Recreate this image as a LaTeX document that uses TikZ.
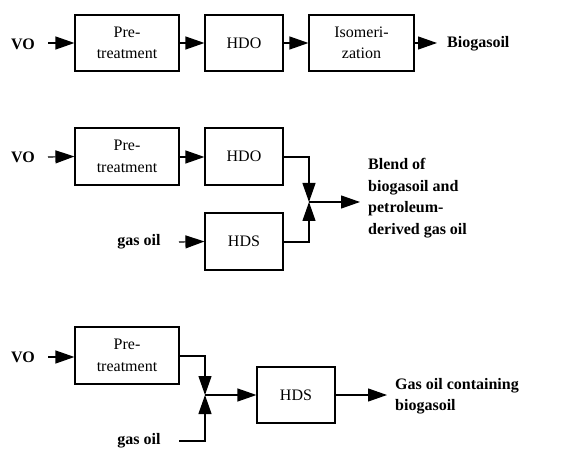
\documentclass[tikz,border=0pt]{standalone}
\usepackage{fontspec}
\setmainfont{Liberation Serif}
\usetikzlibrary{arrows.meta}
\begin{document}
\begin{tikzpicture}[x=1pt,y=-1pt,
  every node/.style={font=\fontsize{16}{21.5}\selectfont, inner sep=0pt},
  box/.style={draw, line width=1.2pt, minimum height=56pt, align=center},
  lbl/.style={font=\fontsize{16}{21.5}\selectfont\bfseries},
  flow/.style={line width=1.2pt, -{Triangle[length=19pt,width=13pt]}},
  ln/.style={line width=1.2pt}]
\useasboundingbox (0,0) rectangle (573,449);
% Row 1
\node[box, minimum width=104pt] (pre1) at (127,43) {Pre-\\treatment};
\node[box, minimum width=78pt] (hdo1) at (244,43) {HDO};
\node[box, minimum width=105pt] (iso1) at (361.5,43) {Isomeri-\\zation};
\node[lbl] (vo1) at (23,44) {VO};
\node[lbl, anchor=west] (bio1) at (447,44) {Biogasoil};
\draw[flow] (48,43) -- (pre1.west);
\draw[flow] (pre1) -- (hdo1);
\draw[flow] (hdo1) -- (iso1);
\draw[flow] (iso1.east) -- (437,43);
% Row 2
\node[box, minimum width=104pt, minimum height=57pt] (pre2) at (127,156.5) {Pre-\\treatment};
\node[box, minimum width=78pt, minimum height=57pt] (hdo2) at (244,156.5) {HDO};
\node[box, minimum width=78pt, minimum height=57pt] (hds2) at (244,241.5) {HDS};
\node[lbl] (vo2) at (23,157) {VO};
\node[lbl] (go2) at (139,242) {gas oil};
\coordinate (j2) at (309,202);
\node[lbl, anchor=west, align=left] (blend) at (368,198) {Blend of\\biogasoil and\\petroleum-\\derived gas oil};
\draw[flow] (48,157) -- (pre2.west);
\draw[flow] (pre2.east |- 0,157) -- (hdo2.west |- 0,157);
\draw[flow] (179,242) -- (hds2.west);
\draw[flow] (hdo2.east |- 0,157) -| (j2);
\draw[flow] (hds2.east |- 0,242) -| (j2);
\draw[flow] (j2) -- (360,202);
% Row 3
\node[box, minimum width=104pt, minimum height=57pt] (pre3) at (127,355.5) {Pre-\\treatment};
\node[box, minimum width=78pt] (hds3) at (296,395) {HDS};
\node[lbl] (vo3) at (23,357) {VO};
\node[lbl] (go3) at (139,441) {gas oil};
\coordinate (j3) at (205,395);
\node[lbl, anchor=west, align=left] (gasbio) at (395,396) {Gas oil containing\\biogasoil};
\draw[flow] (48,357) -- (pre3.west |- 0,357);
\draw[flow] (pre3.east |- 0,356) -| (j3);
\draw[flow] (179,441) -| (j3);
\draw[flow] (j3) -- (hds3.west);
\draw[flow] (hds3.east) -- (387,395);
\end{tikzpicture}
\end{document}
